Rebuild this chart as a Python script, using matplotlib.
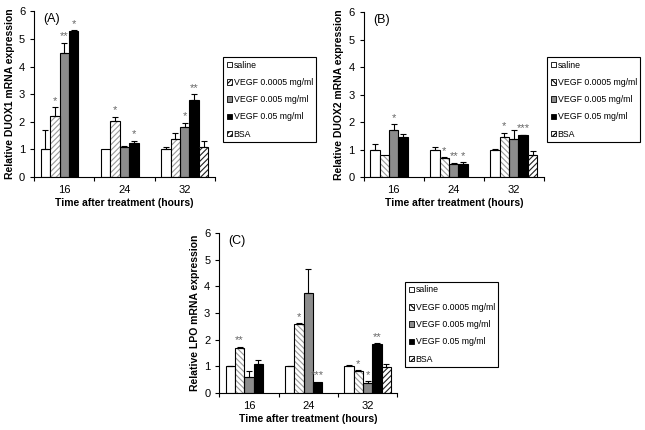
import numpy as np
import matplotlib.pyplot as plt
from matplotlib.patches import Patch

plt.rcParams["font.family"] = ["Liberation Sans", "DejaVu Sans"]
plt.rcParams["hatch.linewidth"] = 0.8

# -------------------------------------------------
# Data
# -------------------------------------------------
times = ["16", "24", "32"]
series = ["saline", "VEGF 0.0005 mg/ml", "VEGF 0.005 mg/ml", "VEGF 0.05 mg/ml", "BSA"]

# rows = series, columns = time points (None = not measured)
duox1_mean = [[1.0, 1.0, 1.0],
              [2.2, 2.03, 1.38],
              [4.48, 1.08, 1.83],
              [5.3, 1.22, 2.8],
              [None, None, 1.1]]
duox1_err = [[0.72, 0.0, 0.1],
             [0.32, 0.15, 0.23],
             [0.38, 0.05, 0.13],
             [0.02, 0.1, 0.2],
             [None, None, 0.2]]
duox1_sig = [["", "", ""],
             ["*", "*", ""],
             ["**", "", "*"],
             ["*", "*", "**"],
             ["", "", ""]]

duox2_mean = [[1.0, 1.0, 1.0],
              [0.8, 0.7, 1.47],
              [1.73, 0.47, 1.4],
              [1.47, 0.48, 1.53],
              [None, None, 0.82]]
duox2_err = [[0.22, 0.08, 0.02],
             [0.0, 0.02, 0.15],
             [0.2, 0.05, 0.33],
             [0.1, 0.06, 0.02],
             [None, None, 0.12]]
duox2_sig = [["", "", ""],
             ["", "*", "*"],
             ["*", "**", ""],
             ["", "*", "***"],
             ["", "", ""]]

lpo_mean = [[1.0, 1.0, 1.0],
            [1.7, 2.58, 0.82],
            [0.6, 3.77, 0.38],
            [1.1, 0.42, 1.85],
            [None, None, 0.97]]
lpo_err = [[0.02, 0.02, 0.04],
           [0.04, 0.04, 0.03],
           [0.22, 0.9, 0.07],
           [0.12, 0.0, 0.02],
           [None, None, 0.12]]
lpo_sig = [["", "", ""],
           ["**", "*", "*"],
           ["", "", "*"],
           ["", "***", "**"],
           ["", "", ""]]

# bar styles per series
face = ["white", "white", "#8c8c8c", "black", "white"]
hatch_col = [None, "#9a9a9a", None, None, "#202020"]


def draw_panel(ax, mean, err, sig, label, ylabel, hatch_light):
    n = len(series)
    w = 0.157
    x = np.arange(len(times))
    hatches = [None, hatch_light, None, None, "//////"]
    for i in range(n):
        offs = (i - (n - 1) / 2) * w
        for j in range(len(times)):
            m = mean[i][j]
            if m is None:
                continue
            xi = x[j] + offs
            if hatches[i]:
                ax.bar(xi, m, w, color=face[i], edgecolor=hatch_col[i],
                       hatch=hatches[i], linewidth=0, zorder=2)
                ax.bar(xi, m, w, fill=False, edgecolor="black", linewidth=0.8, zorder=3)
            else:
                ax.bar(xi, m, w, color=face[i], edgecolor="black", linewidth=0.8, zorder=2)
            e = err[i][j]
            if e and e > 0:
                ax.errorbar(xi, m, yerr=[[0], [e]], fmt="none", ecolor="black",
                            elinewidth=0.8, capsize=2.5, capthick=0.8, zorder=4)
            top = m + (e or 0)
            if sig[i][j]:
                ax.text(xi, top + 0.05, sig[i][j], ha="center", va="bottom",
                        fontsize=8, color="#666666", zorder=5)

    ax.set_xlim(-0.5, len(times) - 0.5)
    ax.set_ylim(0, 6)
    ax.set_yticks(range(0, 7))
    ax.set_xticks(np.arange(len(times) + 1) - 0.5)
    ax.set_xticklabels([])
    ax.set_xticks(x, minor=True)
    ax.set_xticklabels(times, minor=True)
    ax.tick_params(axis="x", which="major", length=3, width=0.8)
    ax.tick_params(axis="x", which="minor", length=0, labelsize=8, pad=6)
    ax.tick_params(axis="y", length=3, width=0.8, labelsize=8)
    for s in ["top", "right"]:
        ax.spines[s].set_visible(False)
    for s in ["left", "bottom"]:
        ax.spines[s].set_linewidth(0.8)
    ax.set_ylabel(ylabel, fontsize=7.5, fontweight="bold", labelpad=3)
    ax.set_xlabel("Time after treatment (hours)", fontsize=7.5, fontweight="bold", labelpad=2)
    ax.text(0.05, 0.99, label, transform=ax.transAxes, fontsize=9, va="top", ha="left")


def add_legend(fig, bbox, hatch_light):
    hatches = [None, hatch_light, None, None, "//////"]
    handles = []
    for i in range(len(series)):
        handles.append(Patch(facecolor=face[i], edgecolor="black", hatch=hatches[i],
                             linewidth=0.6, label=series[i]))
    leg = fig.legend(handles=handles, loc="upper left", bbox_to_anchor=bbox,
                     fontsize=6.3, handlelength=0.6, handleheight=0.6,
                     handletextpad=0.2, labelspacing=0.95, borderpad=0.4,
                     borderaxespad=0, fancybox=False, edgecolor="black", framealpha=1)
    leg.get_frame().set_linewidth(0.8)


fig = plt.figure(figsize=(6.45, 4.3), dpi=100)

ax_a = fig.add_axes([0.053, 0.588, 0.28, 0.386])
draw_panel(ax_a, duox1_mean, duox1_err, duox1_sig, "(A)",
           "Relative DUOX1 mRNA expression", "//////")

ax_b = fig.add_axes([0.564, 0.588, 0.279, 0.384])
draw_panel(ax_b, duox2_mean, duox2_err, duox2_sig, "(B)",
           "Relative DUOX2 mRNA expression", "\\\\\\\\\\\\")

ax_c = fig.add_axes([0.340, 0.086, 0.276, 0.372])
draw_panel(ax_c, lpo_mean, lpo_err, lpo_sig, "(C)",
           "Relative LPO mRNA expression", "\\\\\\\\\\\\")

add_legend(fig, (223 / 645, 1 - 57 / 430), "//////")
add_legend(fig, (547 / 645, 1 - 57 / 430), "\\\\\\\\\\\\")
add_legend(fig, (405 / 645, 1 - 282 / 430), "\\\\\\\\\\\\")

fig.savefig("out.png", dpi=100)
